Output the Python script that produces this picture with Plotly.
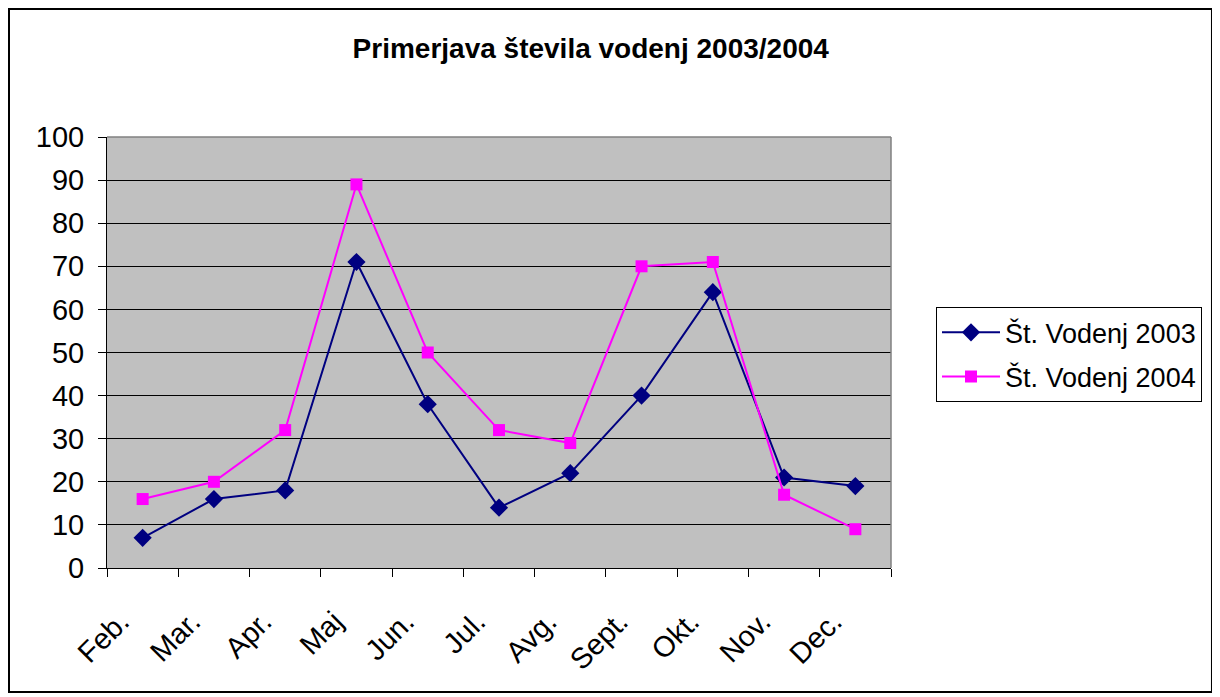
import plotly.graph_objects as go

# data
months = ["Feb.", "Mar.", "Apr.", "Maj", "Jun.", "Jul.", "Avg.", "Sept.", "Okt.", "Nov.", "Dec."]
vodenj_2003 = [7, 16, 18, 71, 38, 14, 22, 40, 64, 21, 19]
vodenj_2004 = [16, 20, 32, 89, 50, 32, 29, 70, 71, 17, 9]
y_ticks = list(range(0, 101, 10))

FONT = "Liberation Sans, Arial, sans-serif"


def build_figure():
    fig = go.Figure()
    fig.add_trace(go.Scatter(
        x=months, y=vodenj_2003, name="Št. Vodenj 2003",
        mode="lines+markers", legendgroup="a",
        line=dict(color="#000080", width=2),
        marker=dict(symbol="diamond", size=14, color="#000080"),
    ))
    fig.add_trace(go.Scatter(
        x=months, y=vodenj_2004, name="Št. Vodenj 2004",
        mode="lines+markers", legendgroup="b",
        line=dict(color="#FF00FF", width=2),
        marker=dict(symbol="square", size=12, color="#FF00FF"),
    ))

    # page has an 8px body margin, so the figure is 8px smaller than the window
    fig.update_layout(
        width=1212, height=689,
        margin=dict(l=99, r=329, t=129, b=129),
        paper_bgcolor="white",
        plot_bgcolor="#C0C0C0",
        font=dict(family=FONT, size=29, color="black"),
        title=dict(
            text="<b>Primerjava števila vodenj 2003/2004</b>",
            font=dict(family=FONT, size=28, color="black"),
            xref="paper", x=0.617, xanchor="center",
            yref="container", y=0.942, yanchor="middle",
        ),
        showlegend=True,
        legend=dict(
            x=1.0574, y=0.605, xanchor="left", yanchor="top",
            bordercolor="black", borderwidth=1, bgcolor="white",
            font=dict(family=FONT, size=27),
            itemwidth=58, tracegroupgap=6,
        ),
    )

    fig.update_xaxes(
        type="category",
        range=[-0.5, len(months) - 0.5],
        tickson="boundaries",
        ticks="outside", ticklen=8, tickcolor="black",
        showline=True, linecolor="black", linewidth=1,
        showgrid=False,
        tickangle=-45,
        ticklabelshift=-22,
        ticklabelstandoff=24,
        tickfont=dict(family=FONT, size=29),
        fixedrange=True,
    )
    fig.update_yaxes(
        range=[0, 100], tickvals=y_ticks,
        ticks="outside", ticklen=8, tickcolor="black",
        showline=True, linecolor="black", linewidth=1,
        showgrid=True, gridcolor="black", gridwidth=1,
        zeroline=False,
        ticklabelstandoff=8,
        tickfont=dict(family=FONT, size=29),
        fixedrange=True,
    )

    # grey border on the top and right of the plot area
    fig.add_shape(type="line", xref="paper", yref="paper", x0=0, x1=1, y0=1, y1=1,
                  line=dict(color="#808080", width=1.5))
    fig.add_shape(type="line", xref="paper", yref="paper", x0=1, x1=1, y0=0, y1=1,
                  line=dict(color="#808080", width=1.5))
    # outer chart frame
    fig.add_shape(type="rect", xref="paper", yref="paper",
                  x0=-0.125, x1=1.4094, y0=-0.2877, y1=1.297,
                  line=dict(color="black", width=2), layer="below")
    return fig


def main():
    fig = build_figure()
    fig.write_html("out.html")


if __name__ == "__main__":
    main()
